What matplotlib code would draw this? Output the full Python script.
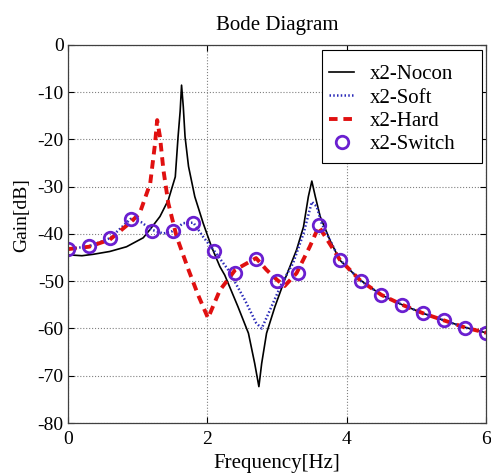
import matplotlib
matplotlib.use("Agg")
import matplotlib.pyplot as plt
from matplotlib.patches import Rectangle

plt.rcParams['font.family'] = ['Liberation Serif', 'DejaVu Serif']
plt.rcParams['axes.unicode_minus'] = False

# x2-Nocon (black solid)
nocon_f = [0, 0.2, 0.36, 0.60, 0.84, 1.08, 1.18, 1.32, 1.44, 1.54, 1.58, 1.61, 1.63, 1.655,
           1.68, 1.73, 1.82, 1.94, 2.06, 2.18, 2.25, 2.44, 2.59, 2.68, 2.74, 2.78, 2.85,
           2.97, 3.11, 3.28, 3.38, 3.45, 3.50, 3.55, 3.62, 3.76, 3.90, 4.19, 4.50, 4.80,
           5.10, 5.40, 5.71, 6.0]
nocon_g = [-44.4, -44.6, -44.3, -43.7, -42.7, -40.8, -39.0, -36.3, -32.8, -27.9, -19.4, -14.0, -8.5, -13.1,
           -19.4, -25.7, -32.1, -37.7, -42.7, -46.9, -48.7, -55.4, -61.0, -67.4, -72.3, -67.4, -61.0,
           -55.4, -49.7, -43.4, -38.5, -32.1, -28.8, -32.1, -36.3, -41.3, -45.5, -49.7, -52.9, -55.0,
           -56.8, -58.3, -59.8, -60.9]

# x2-Soft (blue dotted)
soft_f = [0, 0.3, 0.6, 0.9, 1.05, 1.2, 1.37, 1.5, 1.655, 1.8, 1.94, 2.1, 2.30, 2.54,
          2.70, 2.78, 2.92, 3.07, 3.23, 3.38, 3.50, 3.57, 3.64, 3.76, 3.9,
          4.2, 4.5, 4.8, 5.1, 5.4, 5.7, 6.0]
soft_g = [-43.2, -42.6, -40.9, -36.8, -37.5, -39.1, -39.9, -39.4, -37.7, -37.6, -40.6, -43.6, -47.6, -54.0,
          -58.8, -60.0, -55.4, -50.4, -46.2, -39.9, -33.2, -34.2, -37.7, -41.3, -45.4,
          -49.9, -52.9, -55.0, -56.8, -58.3, -59.8, -60.9]

# x2-Hard (red dashed)
hard_f = [0, 0.3, 0.6, 0.9, 1.03, 1.18, 1.25, 1.28, 1.32, 1.37, 1.44, 1.56, 1.73, 1.87, 2.01,
          2.18, 2.40, 2.70, 2.85, 3.0, 3.11, 3.28, 3.47, 3.60, 3.9,
          4.2, 4.5, 4.8, 5.1, 5.4, 5.7, 6.0]
hard_g = [-43.2, -42.7, -41.2, -37.5, -35.6, -29.3, -20.8, -15.9, -19.4, -26.5, -33.5, -40.6, -47.6, -53.0, -57.8,
          -51.9, -47.6, -45.1, -47.6, -49.7, -51.0, -48.3, -42.7, -38.4, -45.4,
          -49.9, -52.9, -55.0, -56.8, -58.3, -59.8, -60.9]

# x2-Switch (circles every 0.3 Hz)
switch_f = [0, 0.3, 0.6, 0.9, 1.2, 1.5, 1.8, 2.1, 2.4, 2.7, 3.0, 3.3, 3.6, 3.9,
            4.2, 4.5, 4.8, 5.1, 5.4, 5.7, 6.0]
switch_g = [-43.2, -42.6, -40.9, -36.8, -39.4, -39.4, -37.6, -43.6, -48.2, -45.2, -49.9, -48.2, -38.2, -45.4,
            -49.9, -52.9, -55.0, -56.8, -58.3, -59.8, -60.9]

fig = plt.figure(figsize=(4.91, 4.73), dpi=100)
ax = fig.add_axes([0.1385, 0.1057, 0.8513, 0.7992])

ax.plot(nocon_f, nocon_g, color='black', linewidth=1.2, label='x2-Nocon')
ax.plot(soft_f, soft_g, color='#2a2ab8', linewidth=1.8, linestyle=(0, (0.6, 0.9)), label='x2-Soft')
ax.plot(hard_f, hard_g, color='#e01010', linewidth=2.8, linestyle=(0, (2.2, 1.5)), label='x2-Hard')
ax.plot(switch_f, switch_g, linestyle='none', marker='o', markersize=9,
        markerfacecolor='none', markeredgecolor='#6a1fd0', markeredgewidth=2.0, label='x2-Switch')

ax.set_xlim(0, 6)
ax.set_ylim(-80, 0)
ax.set_xticks([0, 2, 4, 6])
ax.set_yticks(range(-80, 1, 10))
ax.grid(True, color='#808080', linestyle=':', linewidth=0.8)
ax.tick_params(direction='in', top=True, right=True, length=4, labelsize=14)
ax.tick_params(axis='x', pad=6)
ax.tick_params(axis='y', pad=3)
for s in ax.spines.values():
    s.set_color('#404040')
    s.set_linewidth(0.9)

ax.set_title('Bode Diagram', fontsize=15, pad=11)
ax.set_xlabel('Frequency[Hz]', fontsize=15, labelpad=4)
ax.set_ylabel('Gain[dB]', fontsize=14, labelpad=0)
ax.yaxis.set_label_coords(-0.09, 0.55)

# legend box in the reference is wider than its entries, so draw the box separately
box = Rectangle((0.6077, 0.688), 0.3827, 0.299, transform=ax.transAxes,
                facecolor='white', edgecolor='black', linewidth=0.8, zorder=4.9)
ax.add_patch(box)
ax.legend(loc='upper left', bbox_to_anchor=(0.607, 0.967), borderaxespad=0,
          fontsize=15, frameon=False,
          handlelength=1.2, labelspacing=0.18, borderpad=0.35, handletextpad=0.75)

fig.savefig('out.png', dpi=100)
